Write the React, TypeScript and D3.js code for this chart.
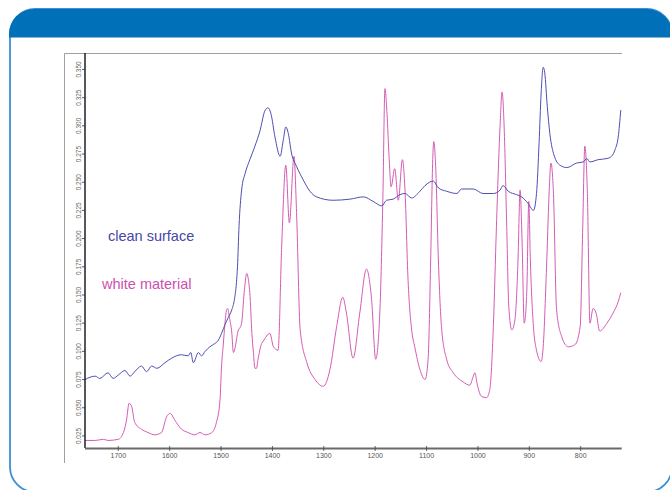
import React from "react";
import * as d3 from "d3";

const width = 670;
const height = 490;

// clean surface spectrum (wavenumber, absorbance)
const cleanWn = [1765, 1745, 1736, 1720, 1710, 1700, 1687, 1677, 1668, 1655, 1645, 1635, 1625, 1609, 1596, 1577, 1564, 1559, 1554, 1544, 1538, 1531, 1522, 1512, 1505, 1499, 1492, 1486, 1479, 1474, 1470, 1468, 1465, 1460, 1453, 1444, 1434, 1424, 1415, 1409, 1403, 1395, 1385, 1379, 1374, 1369, 1363, 1353, 1340, 1327, 1314, 1282, 1249, 1223, 1204, 1187, 1178, 1165, 1152, 1142, 1129, 1113, 1103, 1087, 1077, 1061, 1041, 1032, 1009, 990, 970, 957, 951, 941, 925, 915, 902, 892, 886, 881, 877, 873, 870, 865, 860, 852, 840, 827, 808, 795, 788, 782, 766, 749, 740, 733, 727, 722];
const cleanAbs = [0.075, 0.078, 0.076, 0.081, 0.076, 0.079, 0.083, 0.078, 0.082, 0.087, 0.082, 0.087, 0.085, 0.09, 0.094, 0.097, 0.096, 0.099, 0.09, 0.099, 0.096, 0.1, 0.104, 0.107, 0.11, 0.116, 0.124, 0.13, 0.137, 0.146, 0.161, 0.175, 0.211, 0.243, 0.258, 0.27, 0.282, 0.296, 0.313, 0.316, 0.311, 0.29, 0.273, 0.287, 0.299, 0.293, 0.276, 0.264, 0.252, 0.242, 0.237, 0.234, 0.235, 0.237, 0.233, 0.229, 0.234, 0.235, 0.239, 0.24, 0.236, 0.242, 0.247, 0.251, 0.245, 0.242, 0.24, 0.244, 0.244, 0.24, 0.24, 0.243, 0.247, 0.242, 0.239, 0.237, 0.231, 0.225, 0.24, 0.285, 0.329, 0.352, 0.347, 0.317, 0.293, 0.274, 0.265, 0.263, 0.267, 0.268, 0.271, 0.268, 0.27, 0.271, 0.273, 0.279, 0.29, 0.314];

// white material spectrum
const whiteWn = [1765, 1745, 1729, 1720, 1700, 1690, 1684, 1679, 1674, 1668, 1655, 1642, 1629, 1616, 1606, 1599, 1590, 1577, 1564, 1551, 1541, 1531, 1518, 1509, 1502, 1499, 1496, 1494, 1489, 1487, 1484, 1479, 1476, 1470, 1468, 1460, 1455, 1450, 1446, 1444, 1440, 1437, 1434, 1431, 1428, 1421, 1418, 1405, 1398, 1389, 1382, 1374, 1367, 1358, 1353, 1346, 1333, 1317, 1301, 1288, 1275, 1263, 1256, 1243, 1230, 1217, 1207, 1199, 1191, 1185, 1181, 1177, 1173, 1169, 1162, 1155, 1147, 1142, 1136, 1129, 1123, 1113, 1103, 1097, 1092, 1088, 1086, 1082, 1077, 1071, 1061, 1048, 1029, 1016, 1009, 1006, 1001, 993, 983, 977, 970, 964, 957, 953, 949, 944, 940, 934, 928, 922, 918, 914, 910, 905, 901, 898, 892, 886, 877, 873, 866, 861, 858, 853, 847, 837, 824, 811, 801, 796, 792, 787, 782, 776, 770, 763, 749, 737, 727, 722];
const whiteAbs = [0.021, 0.021, 0.022, 0.021, 0.022, 0.028, 0.039, 0.054, 0.051, 0.037, 0.031, 0.028, 0.026, 0.028, 0.042, 0.045, 0.039, 0.031, 0.028, 0.026, 0.028, 0.026, 0.028, 0.037, 0.057, 0.087, 0.104, 0.116, 0.137, 0.138, 0.131, 0.116, 0.099, 0.11, 0.116, 0.125, 0.152, 0.169, 0.161, 0.152, 0.116, 0.099, 0.085, 0.085, 0.093, 0.107, 0.109, 0.116, 0.104, 0.101, 0.193, 0.265, 0.214, 0.273, 0.223, 0.119, 0.09, 0.075, 0.069, 0.084, 0.122, 0.148, 0.134, 0.094, 0.134, 0.173, 0.146, 0.093, 0.134, 0.237, 0.333, 0.311, 0.273, 0.246, 0.262, 0.234, 0.27, 0.243, 0.163, 0.119, 0.104, 0.084, 0.075, 0.093, 0.181, 0.27, 0.286, 0.261, 0.181, 0.122, 0.093, 0.081, 0.073, 0.07, 0.078, 0.081, 0.07, 0.06, 0.059, 0.066, 0.122, 0.211, 0.299, 0.33, 0.299, 0.211, 0.14, 0.119, 0.128, 0.181, 0.243, 0.196, 0.125, 0.152, 0.233, 0.181, 0.122, 0.101, 0.091, 0.104, 0.181, 0.246, 0.267, 0.24, 0.137, 0.113, 0.104, 0.106, 0.122, 0.211, 0.282, 0.24, 0.125, 0.138, 0.134, 0.118, 0.125, 0.134, 0.144, 0.152];

const xTicks = [1700, 1600, 1500, 1400, 1300, 1200, 1100, 1000, 900, 800];
const yTicks = [0.025, 0.05, 0.075, 0.1, 0.125, 0.15, 0.175, 0.2, 0.225, 0.25, 0.275, 0.3, 0.325, 0.35];

const left = 85;
const right = 621.7;
const top = 53;
const bottom = 448;

const x = d3.scaleLinear().domain([1764.8, 720.2]).range([left, right]);
const y = d3.scaleLinear().domain([0.0143, 0.3646]).range([bottom, top]);

const line = d3
  .line<[number, number]>()
  .x(d => x(d[0]))
  .y(d => y(d[1]))
  .curve(d3.curveMonotoneX);

const cleanPath = line(cleanWn.map((w, i) => [w, cleanAbs[i]]));
const whitePath = line(whiteWn.map((w, i) => [w, whiteAbs[i]]));

const font = "'Liberation Sans', Arial, sans-serif";

// outer frame: rounded rectangle running off the page at the right and bottom
const fx0 = 10, fy0 = 9, fx1 = 672, fy1 = 492, r = 25;
const framePath = `M${fx0},${fy0 + r} A${r},${r} 0 0 1 ${fx0 + r},${fy0} L${fx1 - r},${fy0} A${r},${r} 0 0 1 ${fx1},${fy0 + r} L${fx1},${fy1 - r} A${r},${r} 0 0 1 ${fx1 - r},${fy1} L${fx0 + r},${fy1} A${r},${r} 0 0 1 ${fx0},${fy1 - r} Z`;
const headerPath = `M${fx0 - 1},37.5 L${fx0 - 1},${fy0 + r} A${r},${r} 0 0 1 ${fx0 + r - 1},${fy0} L${fx1 - r},${fy0} A${r},${r} 0 0 1 ${fx1},${fy0 + r} L${fx1},37.5 Z`;

export default function App() {
  return (
    <svg
      width={width}
      height={height}
      style={{ position: "absolute", left: 0, top: 0, background: "#fff" }}
    >
      <path d={framePath} fill="#fff" stroke="#3d8fd4" strokeWidth={1.8} />
      <path d={headerPath} fill="#0070b8" />

      {/* light grey box behind the plot */}
      <path d={`M64.5,463 L64.5,${top + 0.5} L622,${top + 0.5}`} fill="none" stroke="#a0a0a0" strokeWidth={1} />

      {/* spectra */}
      <path d={whitePath ?? ""} fill="none" stroke="#d45cb4" strokeWidth={1} />
      <path d={cleanPath ?? ""} fill="none" stroke="#4e4eb2" strokeWidth={1} />

      {/* y axis */}
      <line x1={left} x2={left} y1={top} y2={bottom} stroke="#111" strokeWidth={1.4} />
      {yTicks.map(t => (
        <g key={t} transform={`translate(0,${y(t)})`}>
          <line x1={left - 3} x2={left} stroke="#333" strokeWidth={0.8} />
          <text
            transform={`translate(81,0) rotate(-90)`}
            textAnchor="middle"
            fontFamily={font}
            fontSize={6.5}
            fill="#666"
          >
            {d3.format(".3f")(t)}
          </text>
        </g>
      ))}

      {/* x axis */}
      <line x1={left} x2={right} y1={bottom + 0.5} y2={bottom + 0.5} stroke="#6a6a6a" strokeWidth={2} />
      {xTicks.map(t => (
        <g key={t} transform={`translate(${x(t)},0)`}>
          <line y1={bottom - 2} y2={bottom + 3} stroke="#444" strokeWidth={0.8} />
          <text y={458} textAnchor="middle" fontFamily={font} fontSize={7} fill="#555">
            {t}
          </text>
        </g>
      ))}

      {/* labels */}
      <text x={108} y={241} fontFamily={font} fontSize={14.5} fill="#4747a6">
        clean surface
      </text>
      <text x={102} y={289} fontFamily={font} fontSize={14.5} fill="#cc50b0">
        white material
      </text>
    </svg>
  );
}
